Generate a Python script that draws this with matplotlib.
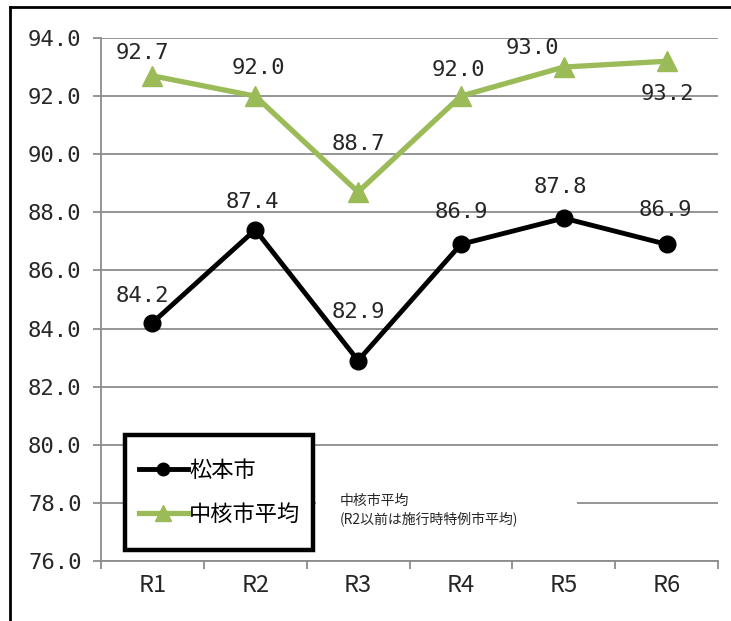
import matplotlib
matplotlib.use("Agg")
import matplotlib.pyplot as plt
from matplotlib.patches import Rectangle
from matplotlib.lines import Line2D

# データ
years = ["R1", "R2", "R3", "R4", "R5", "R6"]
matsumoto = [84.2, 87.4, 82.9, 86.9, 87.8, 86.9]
chukakushi = [92.7, 92.0, 88.7, 92.0, 93.0, 93.2]
yticks = [76, 78, 80, 82, 84, 86, 88, 90, 92, 94]

# ラベル位置 (pixel offset)
matsu_off = [(-10, 27), (-3, 28), (0, 49), (0, 32), (-3, 31), (-1, 34)]
chuka_off = [(-10, 23), (3, 28), (0, 48), (-3, 26), (-31, 19), (1, -33)]

JP = ["Noto Sans CJK JP", "DejaVu Sans"]
XFONT = ["Liberation Sans Narrow", "Noto Sans CJK JP"]
NUM = "DejaVu Sans Mono"
GREEN = "#9BBB59"
GRID = "#8c8c8c"
TXT = "#262626"

fig = plt.figure(figsize=(7.31, 6.21), dpi=100)
ax = fig.add_axes([101 / 731, 60 / 621, 617 / 731, 523 / 621])

x = list(range(len(years)))
ax.set_xlim(-0.5, len(years) - 0.5)
ax.set_ylim(76, 94)

ax.set_yticks(yticks)
ax.set_yticklabels(["%.1f" % v for v in yticks], fontfamily=NUM, fontsize=16, color=TXT)
ax.yaxis.grid(True, color=GRID, linewidth=1.3, zorder=0)
ax.set_axisbelow(True)

ax.set_xticks([i - 0.5 for i in range(len(years) + 1)])
ax.set_xticklabels([])
ax.set_xticks(x, minor=True)
ax.set_xticklabels(years, minor=True, fontfamily=XFONT, fontsize=17, color=TXT)
ax.tick_params(axis="x", which="major", length=6, color=GRID, width=1.3)
ax.tick_params(axis="x", which="minor", length=0, pad=9)
ax.tick_params(axis="y", length=6, color=GRID, width=1.3, pad=8)

for s in ["top", "right"]:
    ax.spines[s].set_visible(False)
for s in ["left", "bottom"]:
    ax.spines[s].set_color(GRID)
    ax.spines[s].set_linewidth(1.3)

ax.plot(x, chukakushi, color=GREEN, linewidth=3.8, marker="^", markersize=14,
        label="中核市平均", zorder=5, clip_on=False)
ax.plot(x, matsumoto, color="black", linewidth=3.5, marker="o", markersize=12,
        label="松本市", zorder=6, clip_on=False)

for xi, v, off in zip(x, matsumoto, matsu_off):
    ax.annotate("%.1f" % v, (xi, v), xytext=off, textcoords="offset pixels",
                ha="center", va="center", fontfamily=NUM, fontsize=16, color=TXT, zorder=7)
for xi, v, off in zip(x, chukakushi, chuka_off):
    ax.annotate("%.1f" % v, (xi, v), xytext=off, textcoords="offset pixels",
                ha="center", va="center", fontfamily=NUM, fontsize=16, color=TXT, zorder=7)

# 凡例の枠
def px2ax(px, py):
    return ((px - 101) / 617, (561 - py) / 523)

x0, y0 = px2ax(125, 550)
x1, y1 = px2ax(313, 435)
ax.add_patch(Rectangle((x0, y0), x1 - x0, y1 - y0, transform=ax.transAxes,
                       facecolor="white", edgecolor="black", linewidth=3.2, zorder=8))

handles = [Line2D([], [], color="black", linewidth=3.5, marker="o", markersize=9),
           Line2D([], [], color=GREEN, linewidth=3.8, marker="^", markersize=11)]
lx, ly = px2ax(139, 526)
leg = ax.legend(handles, ["松本市", "中核市平均"], loc="lower left", bbox_to_anchor=(lx, ly),
                frameon=False, prop={"family": JP, "size": 16}, handlelength=2.2,
                handletextpad=0.05, labelspacing=0.95, borderaxespad=0, borderpad=0)
leg.set_zorder(9)

# 注記
rx0, ry0 = px2ax(316, 540)
rx1, ry1 = px2ax(577, 462)
ax.add_patch(Rectangle((rx0, ry0), rx1 - rx0, ry1 - ry0, transform=ax.transAxes,
                       facecolor="white", edgecolor="none", zorder=3))
tx, ty = px2ax(340, 510)
ax.text(tx, ty, "中核市平均\n(R2以前は施行時特例市平均)", transform=ax.transAxes,
        ha="left", va="center", fontfamily=JP, fontsize=10, linespacing=1.3,
        color=TXT, zorder=4)

# 外枠
fig.add_artist(Line2D([10 / 731, 10 / 731], [0, 1 - 7 / 621], color="black", linewidth=2))
fig.add_artist(Line2D([10 / 731, 1], [1 - 7 / 621, 1 - 7 / 621], color="black", linewidth=2))

fig.savefig("out.png", dpi=100)
